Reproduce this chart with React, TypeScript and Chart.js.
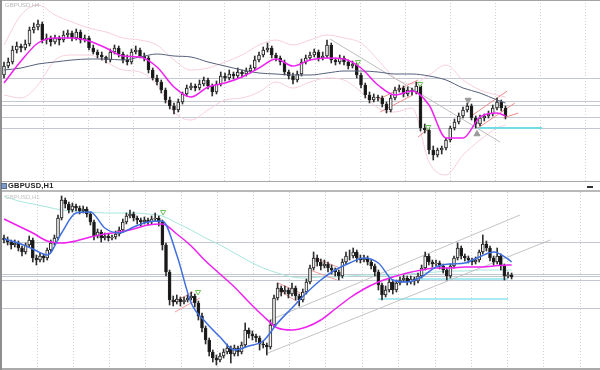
import { useEffect, useRef } from "react";
import { Chart, registerables } from "chart.js";
Chart.register(...registerables);

// ---------- DATA (price levels expressed in chart rows; smaller = higher price) ----------
// Top panel: GBPUSD,H4 candles [open, high, low, close]
const topCandles: number[][] = [
  [75, 62, 78, 66], [66, 58, 68, 62], [62, 46, 64, 50], [50, 42, 53, 46], [46, 44, 52, 48],
  [48, 40, 50, 44], [44, 27, 46, 30], [30, 23, 33, 27], [27, 20, 30, 24], [24, 22, 43, 40],
  [40, 34, 44, 38], [38, 36, 46, 42], [42, 35, 44, 38], [38, 36, 45, 40], [40, 31, 42, 35],
  [35, 30, 38, 33], [33, 31, 41, 38], [38, 29, 40, 32], [32, 30, 43, 40], [40, 35, 42, 38],
  [38, 36, 50, 48], [48, 45, 54, 52], [52, 50, 58, 55], [55, 52, 60, 57], [57, 56, 63, 60],
  [60, 49, 62, 52], [52, 45, 54, 48], [48, 46, 57, 54], [54, 52, 63, 60], [60, 55, 65, 62],
  [62, 49, 64, 52], [52, 46, 54, 50], [50, 48, 58, 56], [56, 53, 61, 58], [58, 56, 73, 70],
  [70, 68, 80, 78], [78, 75, 85, 82], [82, 80, 93, 90], [90, 88, 103, 100], [100, 97, 109, 106],
  [106, 103, 114, 110], [110, 99, 112, 102], [102, 92, 104, 94], [94, 85, 96, 88], [88, 83, 90, 86],
  [86, 84, 91, 88], [88, 80, 90, 84], [84, 77, 86, 80], [80, 78, 89, 86], [86, 84, 96, 92],
  [92, 81, 94, 84], [84, 72, 86, 76], [76, 73, 81, 78], [78, 70, 80, 74], [74, 72, 79, 76],
  [76, 68, 78, 72], [72, 70, 77, 74], [74, 68, 76, 71], [71, 65, 73, 68], [68, 56, 70, 60],
  [60, 52, 62, 55], [55, 47, 57, 50], [50, 43, 52, 48], [48, 46, 58, 55], [55, 53, 61, 58],
  [58, 56, 65, 62], [62, 60, 75, 72], [72, 70, 79, 76], [76, 73, 84, 80], [80, 71, 82, 74],
  [74, 59, 76, 62], [62, 55, 64, 58], [58, 52, 60, 55], [55, 49, 57, 52], [52, 50, 61, 58],
  [58, 52, 60, 56], [56, 40, 58, 45], [45, 43, 63, 60], [60, 58, 65, 62], [62, 55, 64, 58],
  [58, 56, 65, 62], [62, 60, 69, 66], [66, 61, 68, 64], [64, 62, 78, 75], [75, 73, 88, 85],
  [85, 83, 98, 95], [95, 92, 103, 100], [100, 94, 102, 97], [97, 95, 101, 98], [98, 96, 107, 104],
  [104, 102, 113, 110], [110, 95, 112, 98], [98, 87, 100, 90], [90, 85, 92, 88], [88, 86, 97, 94],
  [94, 87, 96, 90], [90, 88, 95, 92], [92, 82, 94, 86], [86, 84, 131, 128], [128, 124, 133, 130],
  [130, 126, 154, 150], [150, 146, 160, 155], [155, 148, 157, 150], [150, 146, 154, 148], [148, 138, 150, 140],
  [140, 126, 142, 128], [128, 119, 130, 122], [122, 113, 124, 116], [116, 107, 118, 110], [110, 103, 112, 106],
  [106, 104, 120, 118], [118, 116, 128, 124], [124, 115, 126, 118], [118, 114, 121, 116], [116, 111, 118, 114],
  [114, 105, 116, 108], [108, 98, 110, 102], [102, 100, 111, 108], [108, 106, 119, 116],
];
const topLineIdx = [0, 4, 8, 12, 16, 20, 24, 28, 32, 36, 40, 44, 48, 52, 56, 60, 64, 68, 72, 76, 80, 84, 88, 92, 96, 100, 104, 108, 112, 116, 118];
const topMaFast = [83, 61, 43, 38, 38, 41, 48, 56, 57, 67, 87, 97, 87, 83, 77, 68, 59, 66, 60, 58, 59, 68, 85, 95, 91, 105, 138, 138, 117, 113, 116];
const topMaSlow = [70, 68, 64, 62, 60, 59, 59, 60, 57, 54, 56, 57, 62, 66, 70, 73, 74, 75, 75, 73, 71, 71, 72, 74, 74, 76, 80, 88, 93, 100, 103];
const topBandUp = [45, 15, 5, 15, 22, 28, 32, 38, 40, 45, 60, 70, 68, 62, 55, 45, 40, 45, 40, 35, 38, 43, 60, 78, 84, 75, 65, 80, 90, 95, 97];
const topBandLow = [95, 98, 85, 60, 55, 55, 62, 70, 72, 85, 112, 120, 110, 100, 98, 92, 82, 88, 82, 78, 80, 92, 108, 112, 108, 162, 175, 155, 140, 128, 125];
const topLevels = [78, 101.5, 105, 117, 128];
const topCyanLevel = [[111.3, 128], [126.6, 128]];
const topTrend = [[76.7, 39], [116.7, 142]];
const topRed = [
  [[87.8, 100], [97.4, 80]],
  [[88.5, 112], [96.2, 95]],
  [[97.4, 137], [100.2, 128]],
  [[109.6, 117], [118.4, 91]],
  [[111.5, 128], [120.2, 103]],
  [[117.4, 118], [121, 113]],
];
const topArrowsDown = [[83.3, 62], [97.9, 84], [99.8, 127]];
const topFractalUp = [[109.2, 100]];
const topFractalDown = [[111.3, 134]];

// Bottom panel: GBPUSD,H1 candles [open, high, low, close]
const botCandles: number[][] = [
  [238, 235, 243, 240], [240, 237, 245, 242], [242, 240, 249, 245], [245, 240, 247, 243], [243, 241, 251, 248],
  [248, 246, 256, 252], [252, 243, 254, 245], [245, 236, 247, 240], [240, 238, 262, 258], [258, 255, 265, 260],
  [260, 253, 262, 256], [256, 254, 262, 258], [258, 248, 260, 250], [250, 240, 252, 243], [243, 235, 245, 238],
  [238, 215, 240, 218], [218, 196, 220, 200], [200, 198, 208, 204], [204, 202, 213, 210], [210, 203, 212, 206],
  [206, 204, 211, 208], [208, 206, 214, 211], [211, 206, 213, 209], [209, 207, 217, 214], [214, 212, 225, 222],
  [222, 220, 240, 236], [236, 229, 238, 232], [232, 230, 242, 238], [238, 233, 240, 236], [236, 234, 241, 238],
  [238, 235, 240, 237], [237, 231, 239, 234], [234, 227, 236, 230], [230, 219, 232, 222], [222, 213, 224, 216],
  [216, 210, 218, 214], [214, 212, 221, 218], [218, 216, 224, 220], [220, 218, 226, 222], [222, 217, 224, 220],
  [220, 218, 225, 222], [222, 216, 224, 219], [219, 213, 221, 218], [218, 216, 226, 222], [222, 220, 250, 245],
  [245, 243, 276, 272], [272, 270, 305, 300], [300, 296, 306, 302], [302, 295, 304, 299], [299, 297, 306, 302],
  [302, 297, 304, 300], [300, 295, 302, 298], [298, 292, 300, 296], [296, 294, 307, 303], [303, 301, 320, 316],
  [316, 313, 332, 328], [328, 326, 344, 340], [340, 338, 356, 352], [352, 350, 362, 358], [358, 355, 365, 360],
  [360, 353, 362, 356], [356, 349, 358, 352], [352, 344, 354, 348], [348, 346, 363, 354], [354, 345, 356, 348],
  [348, 346, 356, 352], [352, 342, 354, 345], [345, 323, 347, 330], [330, 328, 338, 334], [334, 331, 340, 336],
  [336, 334, 342, 338], [338, 336, 350, 344], [344, 341, 348, 345], [345, 343, 355, 347], [347, 320, 349, 325],
  [325, 295, 327, 298], [298, 283, 300, 288], [288, 286, 296, 292], [292, 286, 294, 290], [290, 288, 298, 294],
  [294, 283, 296, 288], [288, 286, 300, 296], [296, 294, 306, 300], [300, 289, 302, 292], [292, 279, 294, 282],
  [282, 265, 284, 268], [268, 252, 270, 258], [258, 255, 266, 262], [262, 259, 270, 266], [266, 260, 268, 264],
  [264, 262, 272, 268], [268, 265, 274, 270], [270, 268, 276, 272], [272, 270, 280, 276], [276, 259, 278, 262],
  [262, 252, 264, 256], [256, 250, 260, 256], [256, 248, 258, 252], [252, 250, 262, 258], [258, 255, 263, 260],
  [260, 255, 262, 258], [258, 256, 265, 262], [262, 260, 269, 266], [266, 264, 276, 272], [272, 270, 290, 285],
  [285, 283, 300, 295], [295, 286, 297, 290], [290, 278, 292, 282], [282, 280, 294, 290], [290, 280, 292, 283],
  [283, 277, 285, 280], [280, 275, 282, 278], [278, 276, 285, 282], [282, 276, 284, 279], [279, 277, 285, 281],
  [281, 273, 283, 276], [276, 265, 278, 268], [268, 252, 270, 256], [256, 254, 265, 262], [262, 260, 267, 264],
  [264, 260, 266, 263], [263, 261, 269, 266], [266, 264, 273, 270], [270, 268, 280, 276], [276, 264, 278, 266],
  [266, 256, 268, 258], [258, 243, 260, 248], [248, 246, 259, 256], [256, 254, 261, 258], [258, 256, 263, 260],
  [260, 258, 265, 262], [262, 257, 264, 260], [260, 250, 262, 252], [252, 235, 254, 244], [244, 241, 251, 248],
  [248, 246, 261, 258], [258, 256, 265, 262], [262, 248, 264, 256], [256, 254, 270, 266], [266, 264, 280, 276],
  [276, 272, 278, 275], [275, 273, 279, 277],
];
const botLineIdx = [0, 4, 8, 12, 16, 20, 24, 28, 32, 36, 40, 44, 48, 52, 56, 60, 64, 68, 72, 76, 80, 84, 88, 92, 96, 100, 104, 108, 112, 116, 120, 124, 128, 132, 136, 140, 141];
const botMaBlue = [239, 243, 249, 255, 233, 213, 212, 228, 233, 227, 222, 221, 255, 303, 322, 337, 350, 346, 341, 323, 308, 293, 280, 270, 263, 258, 263, 280, 282, 277, 267, 264, 263, 257, 252, 259, 262];
const botMaMagenta = [219, 226, 233, 241, 243, 241, 237, 234, 232, 229, 225, 224, 234, 246, 261, 274, 287, 302, 316, 328, 330, 327, 320, 309, 298, 289, 282, 277, 273, 270, 268, 268, 267, 267, 266, 265, 265];
const botMaLong = [196, 201, 204, 207, 210, 211, 212, 213, 213, 213, 214, 216, 223, 230, 238, 245, 253, 261, 268, 273, 277, 278, 277, 277, 276, 275, 275, 275, 274, 273, 272, 271, 271, 270, 270, 270, 270];
const botLevels = [242, 274.5, 276.5, 280, 308];
const botCyanLevels = [
  [[103.9, 299], [140, 299]],
  [[113.6, 279], [140, 279]],
];
const botTrend = [
  [[73.9, 320], [143.3, 215]],
  [[73.3, 353], [151.7, 240]],
];
const botRed = [
  [[46.7, 303], [52.5, 292]],
  [[47.5, 312], [54.4, 298]],
  [[76.1, 283], [83.6, 295]],
  [[76.1, 290], [82.2, 303]],
  [[86.4, 258], [93.3, 268]],
  [[85, 270], [92.5, 280]],
];
const botArrowsDown = [[44.2, 212], [53.9, 292]];

// ---------- LAYOUT ----------
const W = 600;
const TOP_H = 181;
const BOT_Y = 192;
const BOT_H = 176;
const TOP_X0 = 4, TOP_DX = 4.25;
const BOT_X0 = 4, BOT_DX = 3.6;
const topGridX = [43, 88, 133, 179, 224, 269, 315, 360, 405, 450, 495, 540, 585];
const botGridX = [37, 73, 109, 145, 181, 217, 253, 289, 325, 362, 398, 435, 471, 507, 543, 580];

function candleSets(c: number[][], thick: number) {
  return [
    {
      type: "bar",
      data: c.map((k, i) => ({ x: i, y: [k[1], k[2]] })),
      backgroundColor: "#2e2e2e",
      barThickness: 1,
      grouped: false,
      borderWidth: 0,
      order: 4,
    },
    {
      type: "bar",
      data: c.map((k, i) => ({ x: i, y: [k[0], k[3]] })),
      backgroundColor: c.map((k) => (k[3] < k[0] ? "#f2f2f2" : "#161616")),
      borderColor: "#232323",
      borderWidth: 1,
      borderSkipped: false,
      barThickness: thick,
      grouped: false,
      order: 3,
    },
  ];
}

function curve(xs: number[], ys: number[], color: string, width: number, order: number) {
  return {
    type: "line",
    data: xs.map((x, k) => ({ x, y: ys[k] })),
    borderColor: color,
    borderWidth: width,
    pointRadius: 0,
    cubicInterpolationMode: "monotone",
    fill: false,
    order,
  };
}

function seg(s: number[][], color: string, width: number, order: number) {
  return {
    type: "line",
    data: s.map((p) => ({ x: p[0], y: p[1] })),
    borderColor: color,
    borderWidth: width,
    pointRadius: 0,
    tension: 0,
    fill: false,
    order,
  };
}

function markers(pts: number[][], rot: number, fill: string, stroke: string, r: number) {
  return {
    type: "line",
    data: pts.map((p) => ({ x: p[0], y: p[1] })),
    showLine: false,
    pointStyle: "triangle",
    rotation: rot,
    pointRadius: r,
    pointBackgroundColor: fill,
    pointBorderColor: stroke,
    pointBorderWidth: 1,
    order: 0,
  };
}

function makeOptions(xmin: number, xmax: number, ymin: number, ymax: number, gridX: number[], levels: number[]) {
  return {
    responsive: false,
    animation: false,
    devicePixelRatio: 1,
    events: [],
    layout: { padding: 0, autoPadding: false },
    plugins: { legend: { display: false }, tooltip: { enabled: false } },
    scales: {
      x: { type: "linear", min: xmin, max: xmax, display: false, offset: false },
      gx: {
        type: "linear",
        position: "bottom",
        min: 0,
        max: W,
        offset: false,
        grid: { color: "#d2d2d2", lineWidth: 1, drawTicks: false, offset: false },
        border: { display: false, dash: [1, 2] },
        ticks: { display: false },
        afterBuildTicks: (s: any) => {
          s.ticks = gridX.map((v) => ({ value: v }));
        },
        afterFit: (s: any) => {
          s.height = 0;
        },
      },
      y: {
        type: "linear",
        min: ymin,
        max: ymax,
        reverse: true,
        beginAtZero: false,
        grid: { color: "#c3c7cf", lineWidth: 1, drawTicks: false },
        border: { display: false },
        ticks: { display: false },
        afterBuildTicks: (s: any) => {
          s.ticks = levels.map((v) => ({ value: v }));
        },
        afterFit: (s: any) => {
          s.width = 0;
        },
      },
    },
  };
}

function topConfig(): any {
  return {
    type: "line",
    data: {
      datasets: [
        curve(topLineIdx, topBandUp, "#f6cfdc", 1, 7),
        curve(topLineIdx, topBandLow, "#f6cfdc", 1, 7),
        seg(topTrend, "#bdbdbd", 1, 6),
        ...topRed.map((s) => seg(s, "#f28a8a", 1, 6)),
        seg(topCyanLevel, "#72dde6", 2, 6),
        ...candleSets(topCandles, 3),
        curve(topLineIdx, topMaSlow, "#55607a", 1, 2),
        curve(topLineIdx, topMaFast, "#f020f0", 1.5, 1),
        markers(topArrowsDown, 180, "rgba(255,255,255,0.9)", "#6cbf5a", 3),
        markers(topFractalUp, 180, "#9a9a9a", "#9a9a9a", 3.5),
        markers(topFractalDown, 0, "#9a9a9a", "#9a9a9a", 3.5),
      ],
    },
    options: makeOptions(-TOP_X0 / TOP_DX, (W - TOP_X0) / TOP_DX, 0, TOP_H, topGridX, topLevels),
  };
}

function botConfig(): any {
  return {
    type: "line",
    data: {
      datasets: [
        curve(botLineIdx, botMaLong, "#a6e6dc", 1, 7),
        ...botTrend.map((s) => seg(s, "#c4c4c4", 1, 6)),
        ...botRed.map((s) => seg(s, "#f29a9a", 1, 6)),
        ...botCyanLevels.map((s) => seg(s, "#8ee4ec", 1.5, 6)),
        ...candleSets(botCandles, 3),
        curve(botLineIdx, botMaMagenta, "#f020f0", 1.5, 2),
        curve(botLineIdx, botMaBlue, "#3f6fe0", 1.5, 1),
        markers(botArrowsDown, 180, "rgba(255,255,255,0.9)", "#6cbf5a", 3),
      ],
    },
    options: makeOptions(-BOT_X0 / BOT_DX, (W - BOT_X0) / BOT_DX, BOT_Y, BOT_Y + BOT_H, botGridX, botLevels),
  };
}

function Panel({ top, height, build }: { top: number; height: number; build: () => any }) {
  const ref = useRef<HTMLCanvasElement | null>(null);
  useEffect(() => {
    const chart = new Chart(ref.current as HTMLCanvasElement, build());
    return () => chart.destroy();
  }, []);
  return (
    <canvas
      ref={ref}
      width={W}
      height={height}
      style={{ position: "absolute", left: 0, top, width: W, height, display: "block" }}
    />
  );
}

export default function App() {
  const abs = (s: any) => ({ position: "absolute" as const, ...s });
  return (
    <div
      style={{
        position: "fixed",
        left: 0,
        top: 0,
        width: W,
        height: 370,
        background: "#ffffff",
        overflow: "hidden",
        fontFamily: "'Liberation Sans', Arial, sans-serif",
      }}
    >
      <Panel top={0} height={TOP_H} build={topConfig} />
      <Panel top={BOT_Y} height={BOT_H} build={botConfig} />
      {/* frame lines */}
      <div style={abs({ left: 0, top: 0, width: W, height: 1, background: "#a4a4a4" })} />
      <div style={abs({ left: 0, top: 181, width: W, height: 1, background: "#a8a8a8" })} />
      <div style={abs({ left: 0, top: 190, width: W, height: 2, background: "#b9b9b9" })} />
      <div style={abs({ left: 0, top: 368, width: W, height: 2, background: "#aaaaaa" })} />
      <div style={abs({ left: 0, top: 0, width: 2, height: 370, background: "#8f8f8f" })} />
      {/* faint panel labels */}
      <div style={abs({ left: 5, top: 2, fontSize: 6, lineHeight: "7px", color: "#b8b8b8" })}>GBPUSD,H4</div>
      <div style={abs({ left: 5, top: 194, fontSize: 6, lineHeight: "7px", color: "#c4c4c4" })}>GBPUSD,H1</div>
      {/* title bar */}
      <div style={abs({ left: 1, top: 183, width: 6, height: 6, background: "#7d9cc8", border: "1px solid #5a6f90", boxSizing: "border-box" })} />
      <div style={abs({ left: 8, top: 182, fontSize: 7.5, lineHeight: "8px", fontWeight: 700, color: "#222", letterSpacing: 0.2 })}>
        GBPUSD,H1
      </div>
      <div style={abs({ left: 587, top: 186, width: 6, height: 2, background: "#333" })} />
    </div>
  );
}
